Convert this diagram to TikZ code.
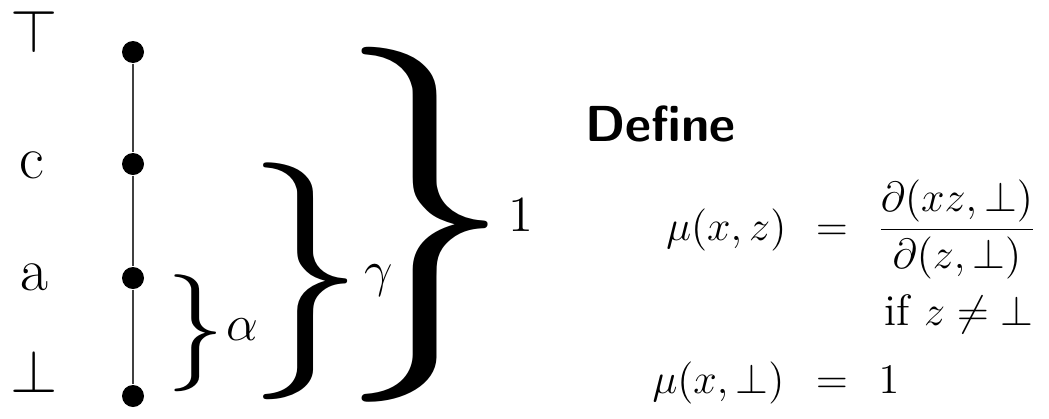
\documentclass[tikz,border=0pt]{standalone}
\usepackage{amsmath,amssymb}
\usepackage{tikz}
\usetikzlibrary{positioning}
\tikzset{
  dot/.style={circle,fill=black,inner sep=0pt,minimum size=2.2mm},
  lbl/.style={font=\LARGE,anchor=base},
  brc/.style={inner sep=0pt},
  tag/.style={font=\Large,inner sep=0pt},
  eqn/.style={font=\fontsize{12.5}{15}\selectfont,inner sep=0pt}
}
\begin{document}
\begin{tikzpicture}
    \useasboundingbox (0,0) rectangle (10.49,4.18);
    % the chain
    \node[dot] (ptop) at (1.33,3.66) {};
    \node[dot] (pc)   at (1.33,2.54) {};
    \node[dot] (pa)   at (1.33,1.40) {};
    \node[dot] (pbot) at (1.33,0.22) {};
    \draw[black!75,line width=0.5pt] (ptop) -- (pc) -- (pa) -- (pbot);
    % names of the points
    \node[lbl] (ltop) at (0.34,3.66) {$\top$};
    \node[lbl] (lc)   at (0.32,2.40) {c};
    \node[lbl] (la)   at (0.34,1.28) {a};
    \node[lbl] (lbot) at (0.34,0.26) {$\bot$};
    % the braces
    \node[brc,scale=3.33] (balpha) at (1.96,0.85) {$\}$};
    \node[tag] (alpha) at (2.42,0.88) {$\alpha$};
    \node[brc,scale=6.74] (bgamma) at (3.06,1.37) {$\}$};
    \node[tag] (gamma) at (3.79,1.37) {$\gamma$};
    \node[brc,scale=10.1] (bone) at (4.25,1.935) {$\}$};
    \node[tag] (one) at (5.21,2.03) {$1$};
    % the definition
    \node[font=\Large\sffamily\bfseries,anchor=base west,inner sep=0pt]
      (define) at (5.85,2.77) {Define};
    \node[eqn,anchor=base east] (mul) at (7.87,1.78) {$\mu(x,z)$};
    \node[eqn,anchor=base] (eqa) at (8.32,1.78) {$=$};
    \node[eqn,anchor=base west] (frac) at (8.76,1.78)
      {$\dfrac{\partial(xz,\bot)}{\partial(z,\bot)}$};
    \node[eqn,anchor=base west] (cond) at (8.84,0.93) {if $z\neq\bot$};
    \node[eqn,anchor=base east] (mub) at (7.85,0.25) {$\mu(x,\bot)$};
    \node[eqn,anchor=base] (eqb) at (8.32,0.25) {$=$};
    \node[eqn,anchor=base west] (val) at (8.78,0.25) {$1$};
\end{tikzpicture}
\end{document}
